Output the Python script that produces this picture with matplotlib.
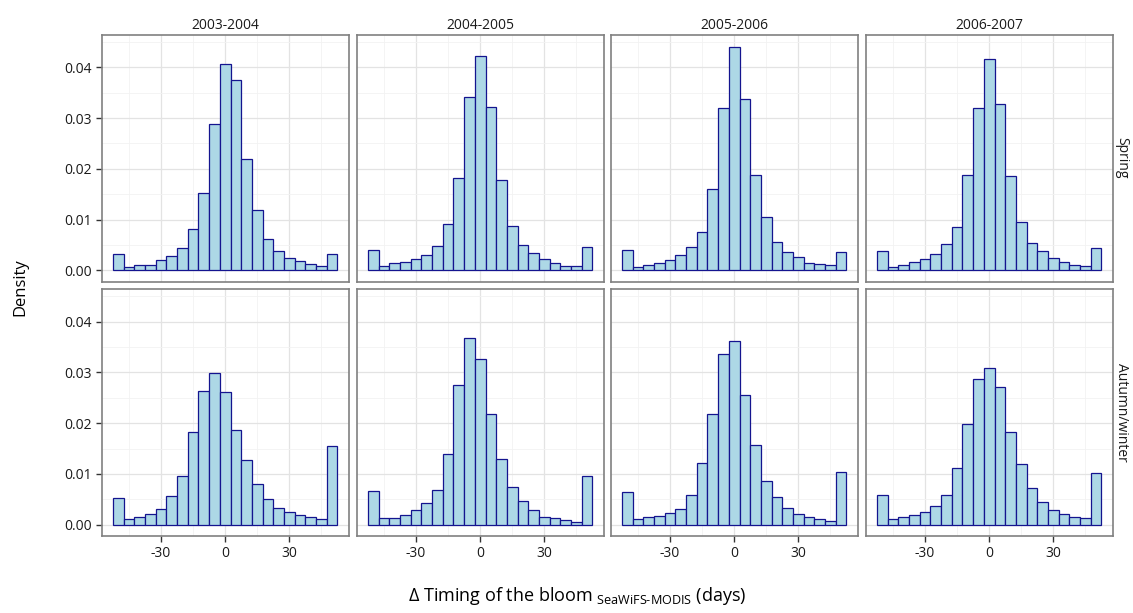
import numpy as np
import matplotlib
matplotlib.use("Agg")
import matplotlib.pyplot as plt
from matplotlib.ticker import MultipleLocator

plt.rcParams['font.family'] = ['Open Sans', 'DejaVu Sans']
plt.rcParams['mathtext.fontset'] = 'custom'
plt.rcParams['mathtext.rm'] = 'Open Sans'
plt.rcParams['mathtext.it'] = 'Open Sans:italic'

years = ['2003-2004', '2004-2005', '2005-2006', '2006-2007']
seasons = ['Spring', 'Autumn/winter']
bin_centers = np.arange(-50, 51, 5)

spring_0304 = [0.00319, 0.00078, 0.00098, 0.00117, 0.00202, 0.0028, 0.0045, 0.00808, 0.01524, 0.0288, 0.04065,
               0.03759, 0.02195, 0.01186, 0.00612, 0.00378, 0.00248, 0.00189, 0.00124, 0.00085, 0.00319]
spring_0405 = [0.00397, 0.00085, 0.00143, 0.00176, 0.00235, 0.00313, 0.00482, 0.00919, 0.01824, 0.0342, 0.04215,
               0.03212, 0.01779, 0.00873, 0.00495, 0.00339, 0.00221, 0.0015, 0.00091, 0.00085, 0.00469]
spring_0506 = [0.0041, 0.00078, 0.00117, 0.0015, 0.00202, 0.00306, 0.00469, 0.00762, 0.01596, 0.03205, 0.04404,
               0.03375, 0.01883, 0.01055, 0.00554, 0.00358, 0.00261, 0.0015, 0.00124, 0.00098, 0.00371]
spring_0607 = [0.00378, 0.00065, 0.00117, 0.00163, 0.00221, 0.00319, 0.00515, 0.0086, 0.01876, 0.03205, 0.04163,
               0.03277, 0.01857, 0.00958, 0.00541, 0.00384, 0.00241, 0.00163, 0.00111, 0.00091, 0.0045]
autumn_0304 = [0.00529, 0.00117, 0.0015, 0.00209, 0.00313, 0.00561, 0.00966, 0.01827, 0.0263, 0.02995, 0.02623,
               0.01873, 0.01279, 0.00796, 0.00502, 0.00333, 0.00248, 0.00183, 0.00144, 0.00111, 0.0156]
autumn_0405 = [0.00666, 0.0013, 0.0013, 0.00189, 0.00287, 0.00437, 0.00692, 0.01396, 0.02754, 0.03667, 0.03269,
               0.02186, 0.01299, 0.00737, 0.0047, 0.00281, 0.00157, 0.0013, 0.00085, 0.00059, 0.00953]
autumn_0506 = [0.00639, 0.00104, 0.0015, 0.0017, 0.00235, 0.00313, 0.00581, 0.01207, 0.02186, 0.03367, 0.03608,
               0.02545, 0.01566, 0.00868, 0.00542, 0.00333, 0.00209, 0.0015, 0.00117, 0.00078, 0.01031]
autumn_0607 = [0.00587, 0.00117, 0.00144, 0.00196, 0.00254, 0.00365, 0.00581, 0.01122, 0.01984, 0.02871, 0.03086,
               0.02715, 0.01821, 0.01188, 0.00724, 0.00444, 0.00294, 0.00209, 0.0015, 0.00124, 0.01018]

density = [[spring_0304, spring_0405, spring_0506, spring_0607],
           [autumn_0304, autumn_0405, autumn_0506, autumn_0607]]

W, H = 1133, 613
fig = plt.figure(figsize=(W / 100, H / 100), dpi=100)

lefts = [101.7, 356.7, 610.7, 865.7]
tops = [34.7, 289.0]
pw, ph = 247.0, 247.0

ymax = 0.0442
ylim = (-0.05 * ymax, 1.05 * ymax)
xlim = (-57.75, 57.75)

for r in range(2):
    for c in range(4):
        ax = fig.add_axes([lefts[c] / W, 1 - (tops[r] + ph) / H, pw / W, ph / H])
        ax.set_axisbelow(True)
        ax.bar(bin_centers, density[r][c], width=5, color='#ADD8E6', edgecolor='#14148f', linewidth=0.9)
        ax.set_xlim(*xlim)
        ax.set_ylim(*ylim)
        ax.xaxis.set_major_locator(MultipleLocator(30))
        ax.xaxis.set_minor_locator(MultipleLocator(15))
        ax.yaxis.set_major_locator(MultipleLocator(0.01))
        ax.yaxis.set_minor_locator(MultipleLocator(0.005))
        ax.grid(which='major', color='#e3e3e3', linewidth=0.9)
        ax.grid(which='minor', color='#f2f2f2', linewidth=0.6)
        for s in ax.spines.values():
            s.set_color('#808080')
            s.set_linewidth(1.2)
        ax.tick_params(which='minor', length=0)
        ax.tick_params(which='major', length=4, width=1, color='#333333', labelsize=10,
                       labelcolor='#1a1a1a', pad=3)
        if c == 0:
            ax.yaxis.set_major_formatter(plt.FuncFormatter(lambda v, p: '%.2f' % v))
        else:
            ax.tick_params(axis='y', length=0, labelleft=False)
        if r == 1:
            ax.set_xticks([-30, 0, 30])
            ax.set_xticklabels(['-30', '0', '30'])
        else:
            ax.tick_params(axis='x', length=0, labelbottom=False)
        if r == 0:
            ax.set_title(years[c], fontsize=10, color='#1a1a1a', pad=4)
        if c == 3:
            ax.text(1.035, 0.5, seasons[r], transform=ax.transAxes, rotation=-90,
                    ha='center', va='center', fontsize=10, color='#1a1a1a')

fig.text(20 / W, 1 - 287 / H, 'Density', rotation=90, ha='center', va='center', fontsize=12)
fig.text(577 / W, 1 - 596 / H,
         r'$\Delta$ Timing of the bloom $_{\mathrm{SeaWiFS\text{-}MODIS}}$ (days)',
         ha='center', va='center', fontsize=13)

fig.savefig('out.png', dpi=100)
